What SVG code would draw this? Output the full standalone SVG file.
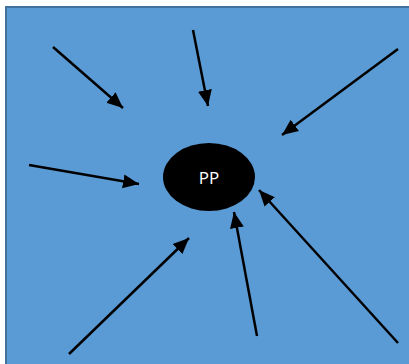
<svg xmlns="http://www.w3.org/2000/svg" width="409" height="364" viewBox="0 0 409 364">
<style>
.bg{fill:#5b9bd5;stroke:#41719c;stroke-width:2}
.arrow{stroke:#000;stroke-width:2.5;fill:none;marker-end:url(#ah)}
.lbl{font-family:"Open Sans","Liberation Sans",sans-serif;font-size:17px;fill:#fff;text-anchor:middle}
</style>
<defs>
<marker id="ah" markerUnits="userSpaceOnUse" markerWidth="18" markerHeight="16" refX="16" refY="7" orient="auto" viewBox="0 0 18 14">
<path d="M0,0 L16,7 L0,14 Z" fill="#000"/>
</marker>
</defs>
<rect class="bg" x="6" y="7" width="410" height="365"/>
<g id="connectors">
<line class="arrow" x1="53" y1="47" x2="123" y2="108"/>
<line class="arrow" x1="193" y1="30" x2="208" y2="106"/>
<line class="arrow" x1="398" y1="49" x2="282" y2="135"/>
<line class="arrow" x1="29" y1="165" x2="139" y2="184"/>
<line class="arrow" x1="69" y1="354" x2="189" y2="238"/>
<line class="arrow" x1="257" y1="336" x2="234" y2="212"/>
<line class="arrow" x1="398" y1="343" x2="259" y2="190"/>
</g>
<g id="pp">
<ellipse cx="209" cy="177" rx="46" ry="34" fill="#000"/>
<text class="lbl" x="209" y="184">PP</text>
</g>
</svg>
